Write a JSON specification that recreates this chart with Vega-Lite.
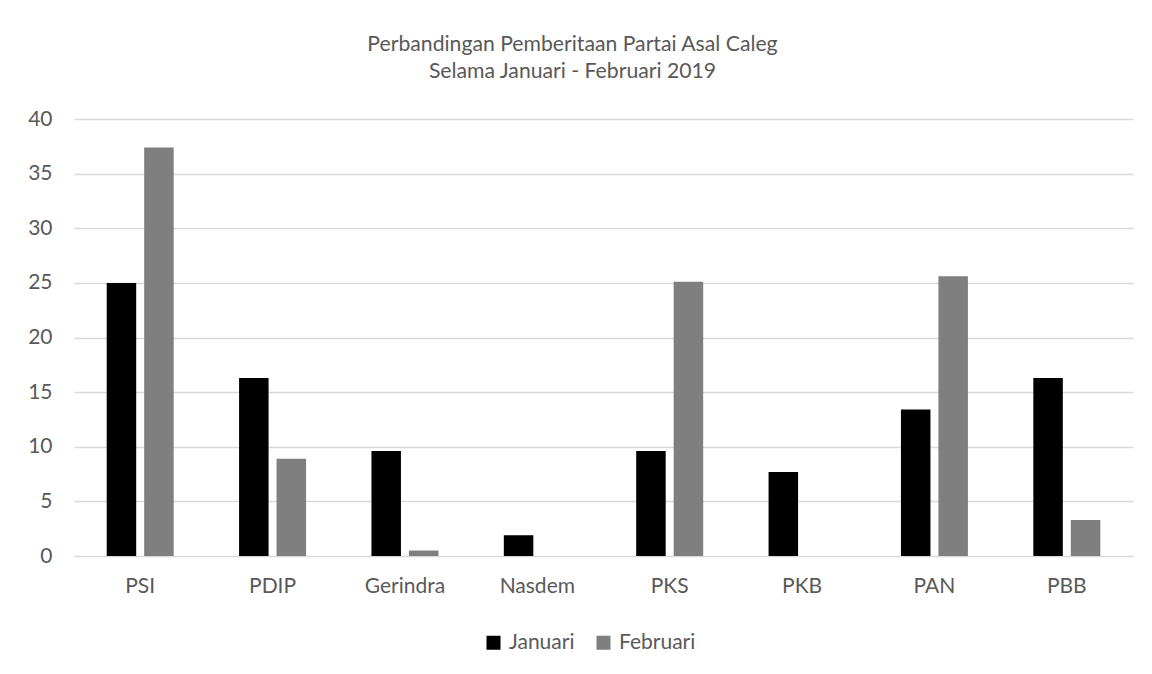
{
  "$schema": "https://vega.github.io/schema/vega-lite/v6.json",
  "autosize": "none",
  "width": 1059,
  "height": 437,
  "padding": {"left": 74, "top": 119, "right": 19, "bottom": 118},
  "background": "#ffffff",
  "title": {
    "text": ["Perbandingan Pemberitaan Partai Asal Caleg", "Selama Januari - Februari 2019"],
    "font": "Lato",
    "fontSize": 21.2,
    "fontWeight": "normal",
    "color": "#595959",
    "anchor": "middle",
    "frame": "group",
    "dx": -31,
    "offset": 26,
    "lineHeight": 26.5
  },
  "data": {
    "values": [
      {"partai": "PSI", "bulan": "Januari", "nilai": 25.0},
      {"partai": "PSI", "bulan": "Februari", "nilai": 37.4},
      {"partai": "PDIP", "bulan": "Januari", "nilai": 16.3},
      {"partai": "PDIP", "bulan": "Februari", "nilai": 8.9},
      {"partai": "Gerindra", "bulan": "Januari", "nilai": 9.6},
      {"partai": "Gerindra", "bulan": "Februari", "nilai": 0.5},
      {"partai": "Nasdem", "bulan": "Januari", "nilai": 1.9},
      {"partai": "Nasdem", "bulan": "Februari", "nilai": 0},
      {"partai": "PKS", "bulan": "Januari", "nilai": 9.6},
      {"partai": "PKS", "bulan": "Februari", "nilai": 25.1},
      {"partai": "PKB", "bulan": "Januari", "nilai": 7.7},
      {"partai": "PKB", "bulan": "Februari", "nilai": 0},
      {"partai": "PAN", "bulan": "Januari", "nilai": 13.4},
      {"partai": "PAN", "bulan": "Februari", "nilai": 25.6},
      {"partai": "PBB", "bulan": "Januari", "nilai": 16.3},
      {"partai": "PBB", "bulan": "Februari", "nilai": 3.3}
    ]
  },
  "mark": {"type": "bar"},
  "encoding": {
    "x": {
      "field": "partai",
      "type": "nominal",
      "sort": null,
      "title": null,
      "scale": {"paddingInner": 0.494, "paddingOuter": 0.247},
      "axis": {
        "labelAngle": 0,
        "labelFont": "Lato",
        "labelFontSize": 21,
        "labelColor": "#595959",
        "labelPadding": 19,
        "ticks": false,
        "domain": false,
        "grid": false
      }
    },
    "xOffset": {
      "field": "bulan",
      "type": "nominal",
      "sort": ["Januari", "Februari"],
      "scale": {"paddingInner": 0.213, "paddingOuter": 0}
    },
    "y": {
      "field": "nilai",
      "type": "quantitative",
      "title": null,
      "scale": {"domain": [0, 40], "nice": false},
      "axis": {
        "values": [0, 5, 10, 15, 20, 25, 30, 35, 40],
        "labelFont": "Lato",
        "labelFontSize": 21,
        "labelColor": "#595959",
        "labelPadding": 22,
        "ticks": false,
        "domain": false,
        "grid": true,
        "gridColor": "#d9d9d9",
        "gridWidth": 1.4
      }
    },
    "color": {
      "field": "bulan",
      "type": "nominal",
      "sort": ["Januari", "Februari"],
      "scale": {"domain": ["Januari", "Februari"], "range": ["#000000", "#7f7f7f"]},
      "legend": {
        "title": null,
        "orient": "none",
        "direction": "horizontal",
        "legendX": 409,
        "legendY": 513,
        "symbolType": "square",
        "symbolSize": 196,
        "symbolStrokeWidth": 0,
        "labelFont": "Lato",
        "labelFontSize": 21,
        "labelColor": "#595959",
        "labelOffset": 5,
        "columnPadding": 18
      }
    }
  },
  "config": {
    "view": {"stroke": null}
  }
}
